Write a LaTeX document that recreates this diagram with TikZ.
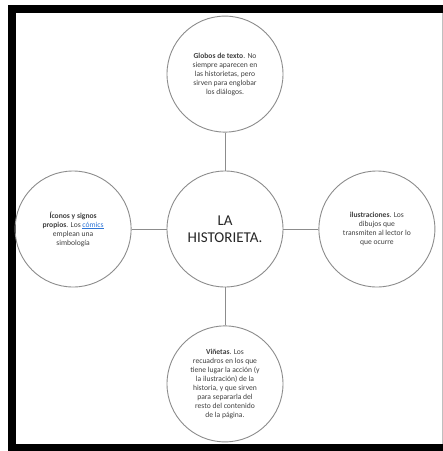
\documentclass[tikz,border=0pt]{standalone}
\usepackage{fontspec}
\setmainfont{Carlito}
\usepackage{xcolor}
\usepackage{tikz}
\usetikzlibrary{positioning}

\definecolor{rimgray}{HTML}{8C8C8C}
\definecolor{txtgray}{HTML}{404040}
\definecolor{linkblue}{HTML}{2E75D6}

\begin{document}
\begin{tikzpicture}[x=1pt,y=-1pt,
  idea/.style={circle,draw=rimgray,line width=0.9pt,minimum size=116pt,
    inner sep=0pt,align=center,text=txtgray,
    font=\fontsize{7.6}{9}\selectfont},
  hub/.style={idea,text=black!85,font=\fontsize{15}{16.5}\selectfont},
  link/.style={draw=rimgray,line width=0.9pt}]
  \useasboundingbox (0,0) rectangle (443,451);
  \fill[white] (0,0) rectangle (443,451);
  % frame
  \fill[black] (8,5) rectangle (443,13);
  \fill[black] (8,5) rectangle (16,451);
  \fill[black] (8,444) rectangle (443,451);
  \draw[black!25,line width=1pt] (442,13) -- (442,444);
  % circles
  \node[hub] (historieta) at (225,229) {LA\\HISTORIETA.};
  \node[idea,above=38pt of historieta] (globos)
    {\textbf{Globos de texto}. No\\siempre aparecen en\\las historietas, pero\\sirven para englobar\\los diálogos.};
  \node[idea,left=35pt of historieta] (iconos)
    {\textbf{Íconos y signos}\\\textbf{propios}. Los \textcolor{linkblue}{\underline{cómics}}\\emplean una\\simbología};
  \node[idea,right=35pt of historieta] (ilustra)
    {\textbf{ilustraciones}. Los\\dibujos que\\transmiten al lector lo\\que ocurre};
  \node[idea,below=38pt of historieta] (vinetas)
    {\textbf{Viñetas}. Los\\recuadros en los que\\tiene lugar la acción (y\\la ilustración) de la\\historia, y que sirven\\para separarla del\\resto del contenido\\de la página.};
  % links
  \draw[link] (globos) -- (historieta);
  \draw[link] (iconos) -- (historieta);
  \draw[link] (ilustra) -- (historieta);
  \draw[link] (vinetas) -- (historieta);
\end{tikzpicture}
\end{document}
